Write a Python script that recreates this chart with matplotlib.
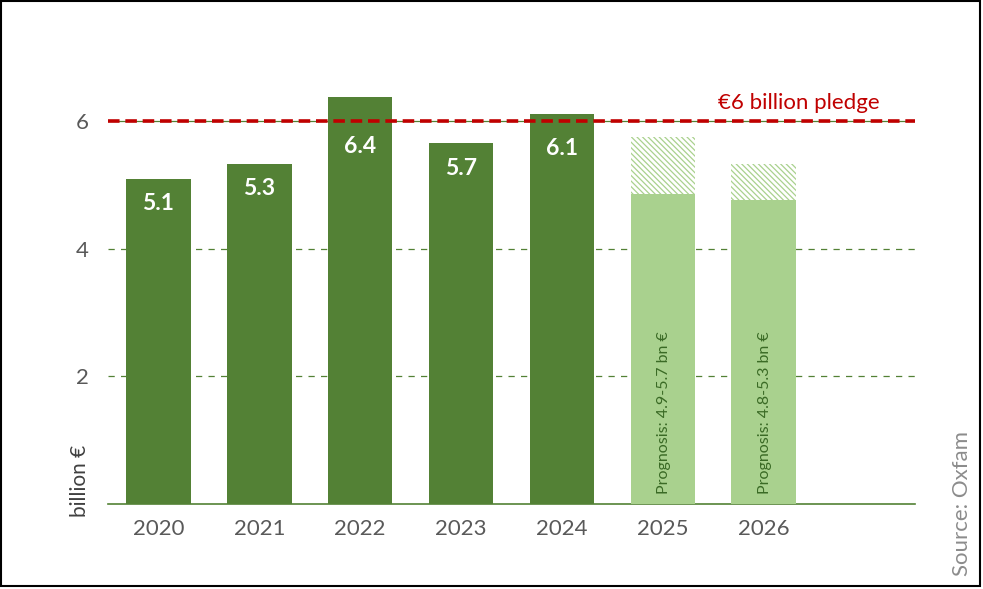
import matplotlib.pyplot as plt
from matplotlib.patches import Rectangle

plt.rcParams['font.family'] = ['Lato', 'DejaVu Sans']
plt.rcParams['hatch.linewidth'] = 0.9

years = ['2020', '2021', '2022', '2023', '2024', '2025', '2026']
actual = [5.09, 5.33, 6.38, 5.66, 6.11]
actual_labels = ['5.1', '5.3', '6.4', '5.7', '6.1']
label_y = [4.7, 4.94, 5.6, 5.25, 5.57]
prog_low = [4.86, 4.76]
prog_high = [5.75, 5.33]
prog_labels = ['Prognosis: 4.9-5.7 bn €', 'Prognosis: 4.8-5.3 bn €']
pledge = 6.0
yticks = [2, 4, 6]

dark_green = '#538135'
light_green = '#A9D18E'
red = '#C00000'
grey = '#595959'

fig = plt.figure(figsize=(9.83, 5.89), dpi=100)
ax = fig.add_axes([108 / 983, 1 - 504 / 589, (915 - 108) / 983, (504 - 57) / 589])

n_act = len(actual)
x_act = list(range(n_act))
x_prog = list(range(n_act, len(years)))
w = 0.64

ax.bar(x_act, actual, width=w, color=dark_green, zorder=3)
for x, y, lab in zip(x_act, label_y, actual_labels):
    ax.text(x, y, lab, ha='center', va='center', color='white',
            fontsize=16.5, fontweight='bold', zorder=6)

ax.bar(x_prog, prog_low, width=w, color=light_green, zorder=3)
ax.bar(x_prog, [h - l for h, l in zip(prog_high, prog_low)], bottom=prog_low,
       width=w, color='white', edgecolor=light_green, linewidth=0,
       hatch='\\' * 6, zorder=3)
for x, lab in zip(x_prog, prog_labels):
    ax.text(x + 0.01, 0.15, lab, rotation=90, ha='center', va='bottom',
            color='#3A6A25', fontsize=11.5, zorder=4)

for y in yticks[:-1]:
    ax.axhline(y, color=dark_green, lw=0.9, ls=(0, (5, 5)), zorder=1)
ax.axhline(pledge, color=dark_green, lw=0.9, zorder=4)
ax.axhline(pledge, color=red, lw=2.6, ls=(0, (3.2, 1.6)), zorder=5)
ax.text(7.15, pledge + 0.12, '€6 billion pledge', ha='right', va='bottom',
        color=red, fontsize=16, zorder=5)

ax.set_xlim(-0.5, 7.5)
ax.set_ylim(0, 7)
ax.set_xticks(range(len(years)))
ax.set_xticklabels(years, fontsize=16, color=grey)
ax.set_yticks(yticks)
ax.set_yticklabels([str(t) for t in yticks], fontsize=16, color=grey)
ax.tick_params(length=0, pad=14)
ax.tick_params(axis='x', pad=11)
for s in ['top', 'right', 'left']:
    ax.spines[s].set_visible(False)
ax.spines['bottom'].set_color(dark_green)
ax.spines['bottom'].set_linewidth(1.2)

fig.text(80 / 983, 1 - 517 / 589, 'billion €', rotation=90, ha='center',
         va='bottom', fontsize=15, color='#404040')
fig.text(962 / 983, 1 - 576 / 589, 'Source: Oxfam', rotation=90, ha='center',
         va='bottom', fontsize=16, color='#8C8C8C')

fig.patches.append(Rectangle((0.0008, 1 - 586 / 589), 979 / 983, 585 / 589,
                             transform=fig.transFigure, fill=False,
                             edgecolor='black', linewidth=1.5))

fig.savefig('out.png', dpi=100)
